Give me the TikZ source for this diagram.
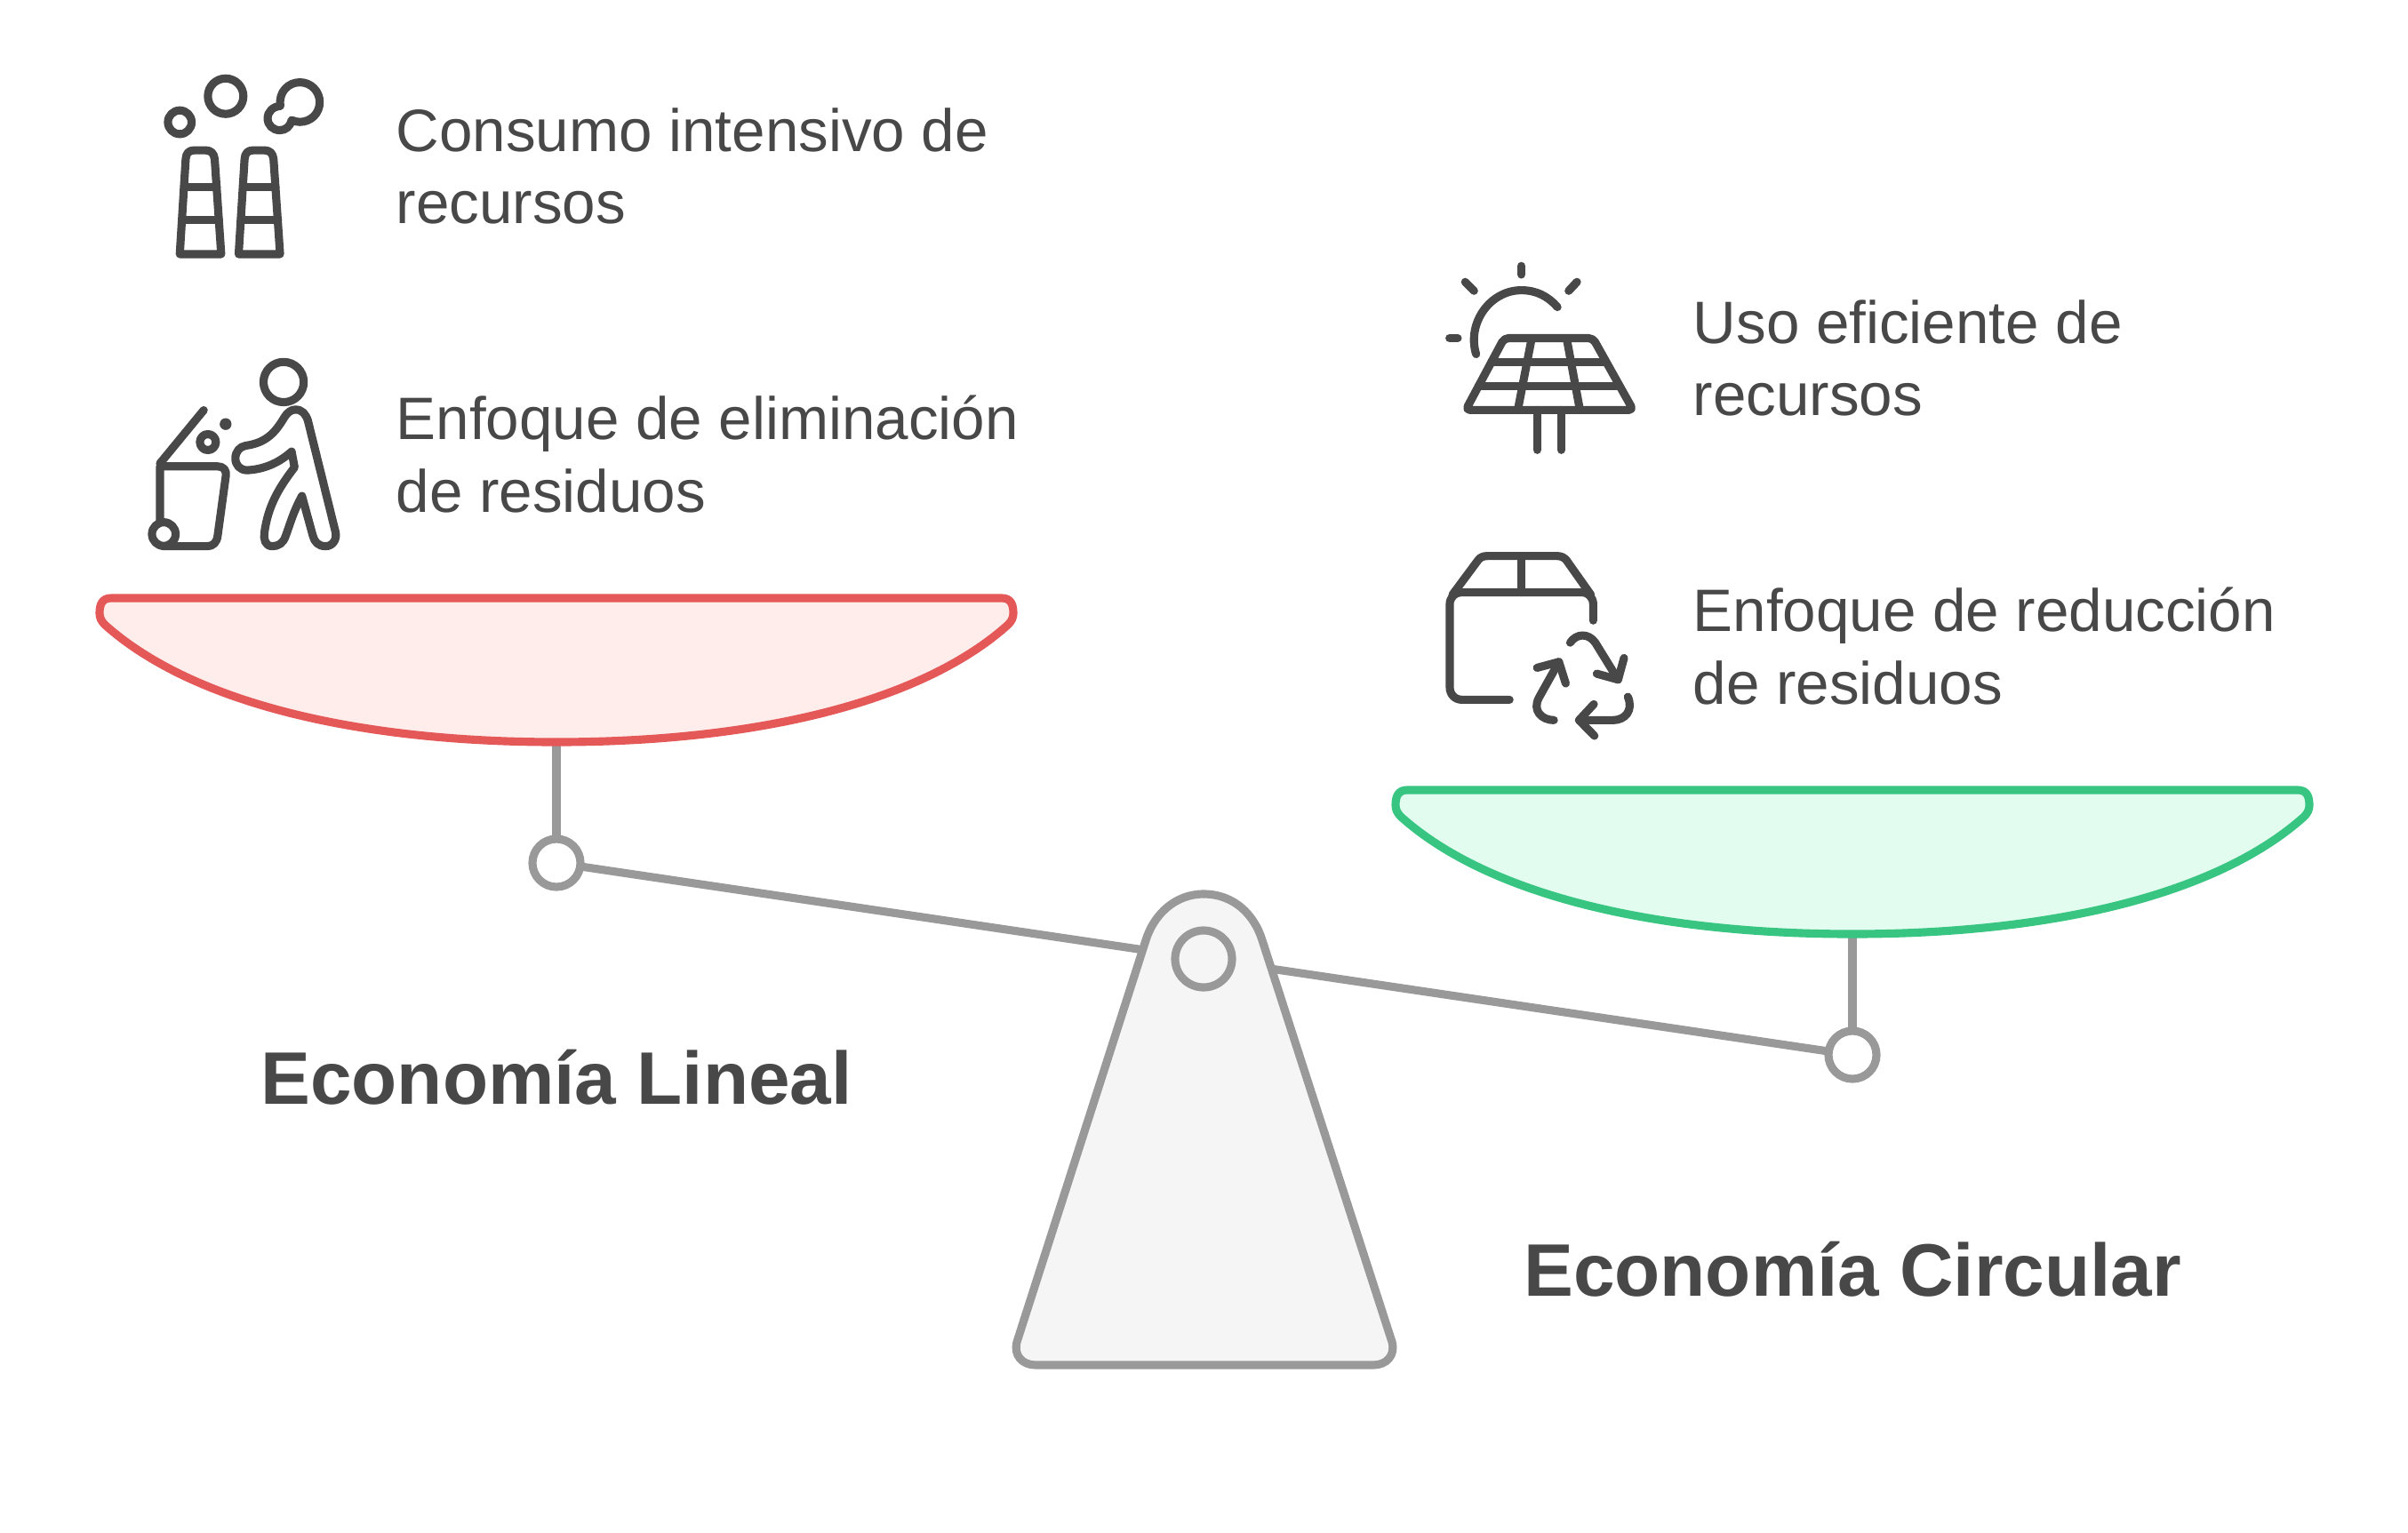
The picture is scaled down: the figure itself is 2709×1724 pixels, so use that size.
\documentclass[tikz,border=0pt]{standalone}
\usepackage{fontspec}
\setmainfont{Liberation Sans}
\usetikzlibrary{graphs}
\definecolor{ink}{HTML}{484848}
\definecolor{steel}{HTML}{999999}
\definecolor{standfill}{HTML}{F5F5F5}
\definecolor{linealline}{HTML}{E55858}
\definecolor{linealfill}{HTML}{FFEDEC}
\definecolor{circularline}{HTML}{38C581}
\definecolor{circularfill}{HTML}{E2FDEF}
\tikzset{
    rod/.style={draw=steel, line width=2.6pt},
    hinge/.style={circle, draw=steel, line width=2.6pt, fill=white, minimum size=0.54cm, inner sep=0pt, outer sep=0pt},
    pivot/.style={hinge, fill=standfill, minimum size=0.64cm},
    pantray/.style={line width=2.6pt, line join=round},
    icon/.style={draw=ink, line width=2.6pt, line cap=round, line join=round},
    zoomed/.style={x=0.003333cm, y=-0.003333cm},
    itemtext/.style={anchor=west, align=left, inner sep=0pt, text=ink, font=\fontsize{19.15}{23.2}\selectfont},
    headtext/.style={inner sep=0pt, text=ink, font=\fontsize{23.8}{29}\selectfont\bfseries}
}
\begin{document}
\begin{tikzpicture}[x=0.01cm, y=-0.01cm]
            \useasboundingbox (0,0) rectangle (2709,1724);

            \node[hinge] (hingeL) at (626, 971) {};
            \node[hinge] (hingeR) at (2084, 1187) {};
            \coordinate (baseL) at (626, 835);
            \coordinate (baseR) at (2084, 1051);

            \graph {(hingeL) --[rod] (hingeR)};
            \graph {(baseL) --[rod] (hingeL)};
            \graph {(baseR) --[rod] (hingeR)};

            \foreach \dx/\dy/\edge/\tint in {0/0/linealline/linealfill, 1458/216/circularline/circularfill} {
                \draw[pantray, draw=\edge, fill=\tint, shift={(\dx,\dy)}]
                    (125,673) -- (1127,673)
                    .. controls (1137,673) and (1140,680) .. (1140,690)
                    .. controls (1140,695) and (1138,699) .. (1134,703)
                    .. controls (1037,790) and (852,835) .. (626,835)
                    .. controls (400,835) and (215,790) .. (118,703)
                    .. controls (114,699) and (112,695) .. (112,690)
                    .. controls (112,680) and (115,673) .. (125,673) -- cycle;
            }

            \draw[rod, line join=round, fill=standfill]
                (1165,1536) .. controls (1150,1536) and (1140,1525) .. (1144,1510)
                -- (1289,1058) .. controls (1298,1029) and (1322,1006) .. (1354,1006)
                .. controls (1388,1006) and (1411,1029) .. (1420,1058)
                -- (1566,1510) .. controls (1570,1525) and (1560,1536) .. (1545,1536) -- cycle;
            \node[pivot] (fulcrum) at (1354, 1079) {};

            \node[itemtext] (consumo) at (445, 187) {Consumo intensivo de\\recursos};
            \node[itemtext] (eliminacion) at (445, 511) {Enfoque de eliminación\\de residuos};
            \node[itemtext] (uso) at (1904, 403) {Uso eficiente de\\recursos};
            \node[itemtext] (reduccion) at (1904, 727) {Enfoque de reducción\\de residuos};
            \node[headtext] (lineal) at (626, 1212) {Economía Lineal};
            \node[headtext] (circular) at (2084, 1428) {Economía Circular};

            \begin{scope}[shift={(150,60)}, zoomed]
                \draw[icon] (157,233) circle[radius=40];
                \draw[icon] (312,145) circle[radius=60];
                \draw[icon] (497,178) .. controls (490,130) and (525,98) .. (563,98)
                    .. controls (600,98) and (630,128) .. (630,165)
                    .. controls (630,203) and (600,232) .. (563,232)
                    .. controls (555,232) and (545,230) .. (535,226)
                    .. controls (530,248) and (515,260) .. (495,260)
                    .. controls (472,260) and (454,243) .. (454,220)
                    .. controls (454,197) and (472,180) .. (497,178) -- cycle;
                \foreach \dx in {0,199} {
                    \draw[icon, shift={(\dx,0)}] (157,679) -- (177,358)
                        .. controls (178,338) and (188,328) .. (205,328) -- (245,328)
                        .. controls (262,328) and (273,338) .. (275,358) -- (297,679) -- cycle;
                    \draw[icon, shift={(\dx,0)}] (172,452) -- (282,452);
                    \draw[icon, shift={(\dx,0)}] (165,564) -- (290,564);
                }
            \end{scope}

            \begin{scope}[shift={(150,390)}, zoomed]
                \draw[icon] (508,120) circle[radius=68];
                \draw[icon] (380,335) .. controls (450,325) and (480,290) .. (510,240)
                    .. controls (520,222) and (535,213) .. (548,213)
                    .. controls (570,213) and (583,228) .. (590,250)
                    -- (683,625) .. controls (690,650) and (675,675) .. (650,675)
                    .. controls (625,675) and (612,660) .. (607,640)
                    -- (570,505) .. controls (540,560) and (530,600) .. (515,640)
                    .. controls (507,665) and (490,675) .. (470,675)
                    .. controls (445,675) and (440,650) .. (443,630)
                    .. controls (455,540) and (490,480) .. (545,408)
                    -- (535,355) .. controls (490,395) and (440,415) .. (385,418)
                    .. controls (360,418) and (345,400) .. (345,378)
                    .. controls (345,355) and (360,338) .. (380,335) -- cycle;
                \draw[icon] (238,215) -- (90,395);
                \draw[icon] (90,590) -- (90,405) -- (285,405)
                    .. controls (305,405) and (315,418) .. (313,435)
                    -- (285,640) .. controls (282,662) and (270,675) .. (250,675) -- (100,675);
                \draw[icon, fill=white] (103,634) circle[radius=40];
                \draw[icon] (252,323) circle[radius=27];
                \fill[ink] (312,262) circle[radius=20];
            \end{scope}

            \begin{scope}[shift={(1610,280)}, zoomed]
                \draw[icon] (305,58) -- (305,87);
                \draw[icon] (115,112) -- (145,142);
                \draw[icon] (493,112) -- (465,142);
                \draw[icon] (62,302) -- (90,302);
                \draw[icon] (152,356) .. controls (120,250) and (200,140) .. (305,140)
                    .. controls (355,140) and (395,160) .. (427,197);
                \draw[icon, rounded corners=1.4pt] (247,302) -- (547,302) -- (683,545) -- (117,545) -- cycle;
                \draw[icon] (203,384) -- (590,384);
                \draw[icon] (160,465) -- (635,465);
                \draw[icon] (340,302) -- (293,545);
                \draw[icon] (458,302) -- (503,545);
                \draw[icon] (358,545) -- (358,680);
                \draw[icon] (440,545) -- (440,680);
            \end{scope}

            \begin{scope}[shift={(1610,610)}, zoomed]
                \draw[icon] (265,533) -- (105,533) .. controls (80,533) and (63,515) .. (63,490)
                    -- (63,210) .. controls (63,188) and (80,170) .. (100,170) -- (510,170)
                    .. controls (532,170) and (548,188) .. (548,210) -- (548,265);
                \draw[icon] (72,178) -- (158,62) .. controls (165,52) and (175,47) .. (190,47)
                    -- (425,47) .. controls (440,47) and (450,52) .. (458,62) -- (540,178);
                \draw[icon] (306,47) -- (306,170);
                \draw[icon] (470,340) .. controls (490,310) and (530,305) .. (555,340) -- (632,465);
                \draw[icon] (652,392) -- (632,465) -- (560,445);
                \draw[icon] (665,523) .. controls (685,570) and (655,602) .. (615,602) -- (500,602);
                \draw[icon] (550,548) -- (500,602) -- (552,655);
                \draw[icon] (415,602) .. controls (375,602) and (340,570) .. (365,525) -- (432,405);
                \draw[icon] (358,425) -- (432,405) -- (455,478);
            \end{scope}
\end{tikzpicture}
\end{document}
